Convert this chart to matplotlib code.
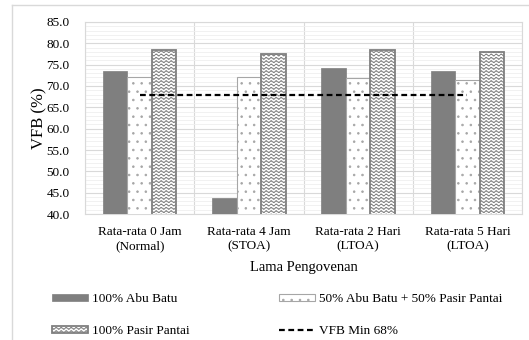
import numpy as np
import matplotlib
matplotlib.use("Agg")
import matplotlib.pyplot as plt
import matplotlib.hatch as mhatch
from matplotlib.path import Path
from matplotlib.lines import Line2D

# ---- data ----
categories = ["Rata-rata 0 Jam\n(Normal)", "Rata-rata 4 Jam\n(STOA)",
              "Rata-rata 2 Hari\n(LTOA)", "Rata-rata 5 Hari\n(LTOA)"]
abu_batu = [73.5, 43.8, 74.3, 73.6]
campuran = [72.0, 72.2, 71.9, 71.5]
pasir_pantai = [78.4, 77.5, 78.4, 78.0]
vfb_min = [68.0, 68.0, 68.0, 68.0]
series_labels = ["100% Abu Batu", "50% Abu Batu + 50% Pasir Pantai",
                 "100% Pasir Pantai", "VFB Min 68%"]
y_ticks = np.arange(40, 85.1, 5)


# Wavy hatch pattern ('~'), registered alongside the built-in hatches
class WaveHatch(mhatch.HatchPatternBase):
    def __init__(self, hatch, density):
        self.num_lines = int(hatch.count('~') * density)
        self.num_seg = 120
        self.num_vertices = self.num_lines * (self.num_seg + 1)

    def set_vertices_and_codes(self, vertices, codes):
        if not self.num_lines:
            return
        t = np.linspace(0.0, 1.0, self.num_seg + 1)
        step = 1.0 / self.num_lines
        n = self.num_seg + 1
        for i in range(self.num_lines):
            y0 = (i + 0.5) * step
            s = slice(i * n, (i + 1) * n)
            vertices[s, 0] = t
            vertices[s, 1] = y0 + 0.011 * np.sin(2 * np.pi * 20 * t)
            codes[s] = Path.LINETO
            codes[i * n] = Path.MOVETO


mhatch._hatch_types.append(WaveHatch)

plt.rcParams['font.family'] = ['Liberation Serif', 'DejaVu Serif']
plt.rcParams['hatch.linewidth'] = 0.6

fig = plt.figure(figsize=(5.29, 3.40), dpi=100)
ax = fig.add_axes([85 / 529, 1 - 214 / 340, (522 - 85) / 529, (214 - 22) / 340])

# outer chart frame
fig.add_artist(Line2D([12 / 529, 12 / 529], [0, 1 - 5 / 340], color='#d9d9d9', lw=1.0,
                      transform=fig.transFigure))
fig.add_artist(Line2D([12 / 529, 1], [1 - 5 / 340, 1 - 5 / 340], color='#d9d9d9', lw=1.0,
                      transform=fig.transFigure))

x = np.arange(len(categories))
w = 0.225
dark = '#7f7f7f'
b1 = ax.bar(x - w, abu_batu, w, color=dark, edgecolor=dark, linewidth=0.5, zorder=3)
b2 = ax.bar(x, campuran, w, color='white', edgecolor='#a6a6a6', linewidth=0.8,
            hatch='..', zorder=3)
b3 = ax.bar(x + w, pasir_pantai, w, color='white', edgecolor='#7f7f7f', linewidth=1.3,
            hatch='~~~~~', zorder=3)
ln, = ax.plot(x, vfb_min, color='black', lw=1.6, linestyle=(0, (2.6, 1.6)), zorder=4)

ax.set_xlim(-0.5, len(categories) - 0.5)
ax.set_ylim(40, 85)
ax.set_yticks(y_ticks)
ax.set_yticklabels([f"{v:.1f}" for v in y_ticks])
ax.set_yticks(np.arange(40, 85, 1), minor=True)
ax.set_xticks(x)
ax.set_xticklabels(categories, linespacing=1.3)
ax.set_xticks(np.arange(-0.5, len(categories)), minor=True)
ax.tick_params(axis='both', which='both', length=0)
ax.tick_params(axis='y', labelsize=9.5, pad=11)
ax.tick_params(axis='x', labelsize=9.5, pad=8.5)

ax.grid(True, which='major', axis='y', color='#d9d9d9', lw=0.8, zorder=0)
ax.grid(True, which='minor', axis='y', color='#efefef', lw=0.6, zorder=0)
ax.grid(True, which='minor', axis='x', color='#d9d9d9', lw=0.8, zorder=0)
ax.set_axisbelow(True)
for s in ax.spines.values():
    s.set_color('#d9d9d9')
    s.set_linewidth(0.8)

ax.set_ylabel("VFB (%)", fontsize=12)
ax.yaxis.set_label_coords(-0.085, 0.5)
ax.set_xlabel("Lama Pengovenan", fontsize=10.5, labelpad=6)

handles = [b1, b3, b2, ln]
labels = [series_labels[0], series_labels[2], series_labels[1], series_labels[3]]
fig.legend(handles, labels, loc='upper left', bbox_to_anchor=(52 / 529, 1 - 293 / 340),
           ncols=2, frameon=False, fontsize=9.5, handlelength=2.7, handleheight=0.4,
           handletextpad=0.3, labelspacing=1.55, columnspacing=6.8,
           borderpad=0, borderaxespad=0)

fig.savefig("out.png", dpi=100)
